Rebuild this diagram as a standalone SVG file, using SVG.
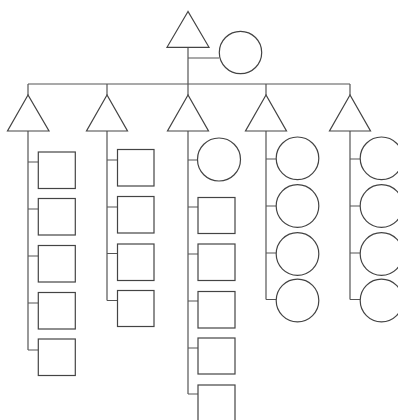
<svg xmlns="http://www.w3.org/2000/svg" width="398" height="420" viewBox="0 0 398 420">
<style>
.s{fill:#fff;stroke:#444;stroke-width:1.2}
.c{fill:none;stroke:#555;stroke-width:1.2}
</style>
<defs>
<polygon id="tri" points="0,0 -21,36 21,36"/>
</defs>
<rect width="398" height="420" fill="#fff"/>
<g id="connectors" class="c">
<path d="M188,47V84M188,58H219M28,84H350"/>
<path d="M28,84V95M107,84V95M188,84V95M266,84V95M350,84V95"/>
<path d="M28,131V350M28,162H38M28,209H38M28,256H38M28,303H38M28,350H38"/>
<path d="M107,131V300.5M107,160H117.5M107,207H117.5M107,253.5H117.5M107,300.5H117.5"/>
<path d="M188,131V394M188,160H197.5M188,207H198M188,254H198M188,301H198M188,348H198M188,394H198"/>
<path d="M266,131V299.5M266,159H276M266,206H276M266,253H276M266,299.5H276"/>
<path d="M350,131V299.5M350,159H360M350,206H360M350,253H360M350,299.5H360"/>
</g>
<g id="root"><polygon class="s" points="188,11.5 167,47.3 209,47.3"/></g>
<g id="root-circle"><circle class="s" cx="240.5" cy="52.5" r="21.2"/></g>
<g id="t1"><polygon class="s" points="28,95 7.5,131 49,131"/></g>
<g id="t2"><polygon class="s" points="107,95 86.5,131 127.5,131"/></g>
<g id="t3"><polygon class="s" points="188,95 167.5,131 208.5,131"/></g>
<g id="t4"><polygon class="s" points="266,95 245.5,131 286.5,131"/></g>
<g id="t5"><polygon class="s" points="350,95 329.5,131 370.5,131"/></g>
<g id="c1-1"><rect class="s" x="38.3" y="152" width="37" height="36.5"/></g>
<g id="c1-2"><rect class="s" x="38.3" y="198.5" width="37" height="36.5"/></g>
<g id="c1-3"><rect class="s" x="38.3" y="245.5" width="37" height="36.5"/></g>
<g id="c1-4"><rect class="s" x="38.3" y="292.5" width="37" height="36.5"/></g>
<g id="c1-5"><rect class="s" x="38.3" y="339" width="37" height="36.5"/></g>
<g id="c2-1"><rect class="s" x="117.5" y="149.5" width="36.5" height="36.5"/></g>
<g id="c2-2"><rect class="s" x="117.5" y="196.5" width="36.5" height="36.5"/></g>
<g id="c2-3"><rect class="s" x="117.5" y="244" width="36.5" height="36.5"/></g>
<g id="c2-4"><rect class="s" x="117.5" y="290.5" width="36.5" height="36"/></g>
<g id="c3-1"><circle class="s" cx="219" cy="159.5" r="21.5"/></g>
<g id="c3-2"><rect class="s" x="198" y="197.5" width="37" height="36"/></g>
<g id="c3-3"><rect class="s" x="198" y="244" width="37" height="36.5"/></g>
<g id="c3-4"><rect class="s" x="198" y="291.5" width="37" height="36.5"/></g>
<g id="c3-5"><rect class="s" x="198" y="338" width="37" height="36"/></g>
<g id="c3-6"><rect class="s" x="198" y="385" width="37" height="36.5"/></g>
<g id="c4-1"><circle class="s" cx="297.5" cy="158.3" r="21.3"/></g>
<g id="c4-2"><circle class="s" cx="297.5" cy="206" r="21.3"/></g>
<g id="c4-3"><circle class="s" cx="297.5" cy="254" r="21.3"/></g>
<g id="c4-4"><circle class="s" cx="297.5" cy="300.5" r="21.3"/></g>
<g id="c5-1"><circle class="s" cx="381.5" cy="158.3" r="21.3"/></g>
<g id="c5-2"><circle class="s" cx="381.5" cy="206" r="21.3"/></g>
<g id="c5-3"><circle class="s" cx="381.5" cy="254" r="21.3"/></g>
<g id="c5-4"><circle class="s" cx="381.5" cy="300.5" r="21.3"/></g>
</svg>
